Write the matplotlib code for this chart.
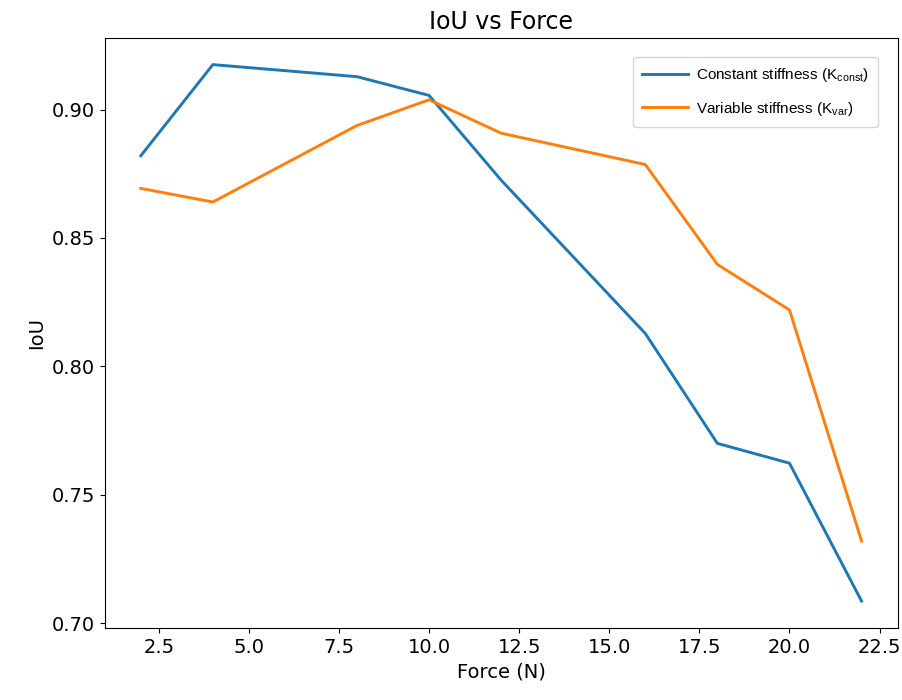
import matplotlib
matplotlib.use("Agg")
import matplotlib.pyplot as plt

force = [2, 4, 8, 10, 12, 16, 18, 20, 22]
iou_const = [0.882, 0.9175, 0.9128, 0.9055, 0.8725, 0.8128, 0.7700, 0.7623, 0.7086]
iou_var = [0.8693, 0.8640, 0.8938, 0.9038, 0.8908, 0.8786, 0.8397, 0.8220, 0.7320]

plt.rcParams['font.size'] = 14
plt.rcParams['mathtext.fontset'] = 'custom'
plt.rcParams['mathtext.rm'] = 'Liberation Sans'

fig = plt.figure(figsize=(9.03, 7.0), dpi=100)
ax = fig.add_axes([0.116, 0.103, 0.878, 0.843])

ax.plot(force, iou_const, color='#1f77b4', lw=2.1, label=r'Constant stiffness (K$_{\mathrm{const}}$)')
ax.plot(force, iou_var, color='#ff7f0e', lw=2.1, label=r'Variable stiffness (K$_{\mathrm{var}}$)')

ax.set_title('IoU vs Force', fontsize=17)
ax.set_xlabel('Force (N)')
ax.set_ylabel('IoU')
ax.set_yticks([0.70, 0.75, 0.80, 0.85, 0.90])

leg = ax.legend(loc='upper right', prop={'family': 'Liberation Sans', 'size': 11},
                handlelength=3.0, handletextpad=0.5, borderpad=0.6, labelspacing=1.0,
                bbox_to_anchor=(0.985, 0.98))

fig.savefig('out.png', dpi=100)
